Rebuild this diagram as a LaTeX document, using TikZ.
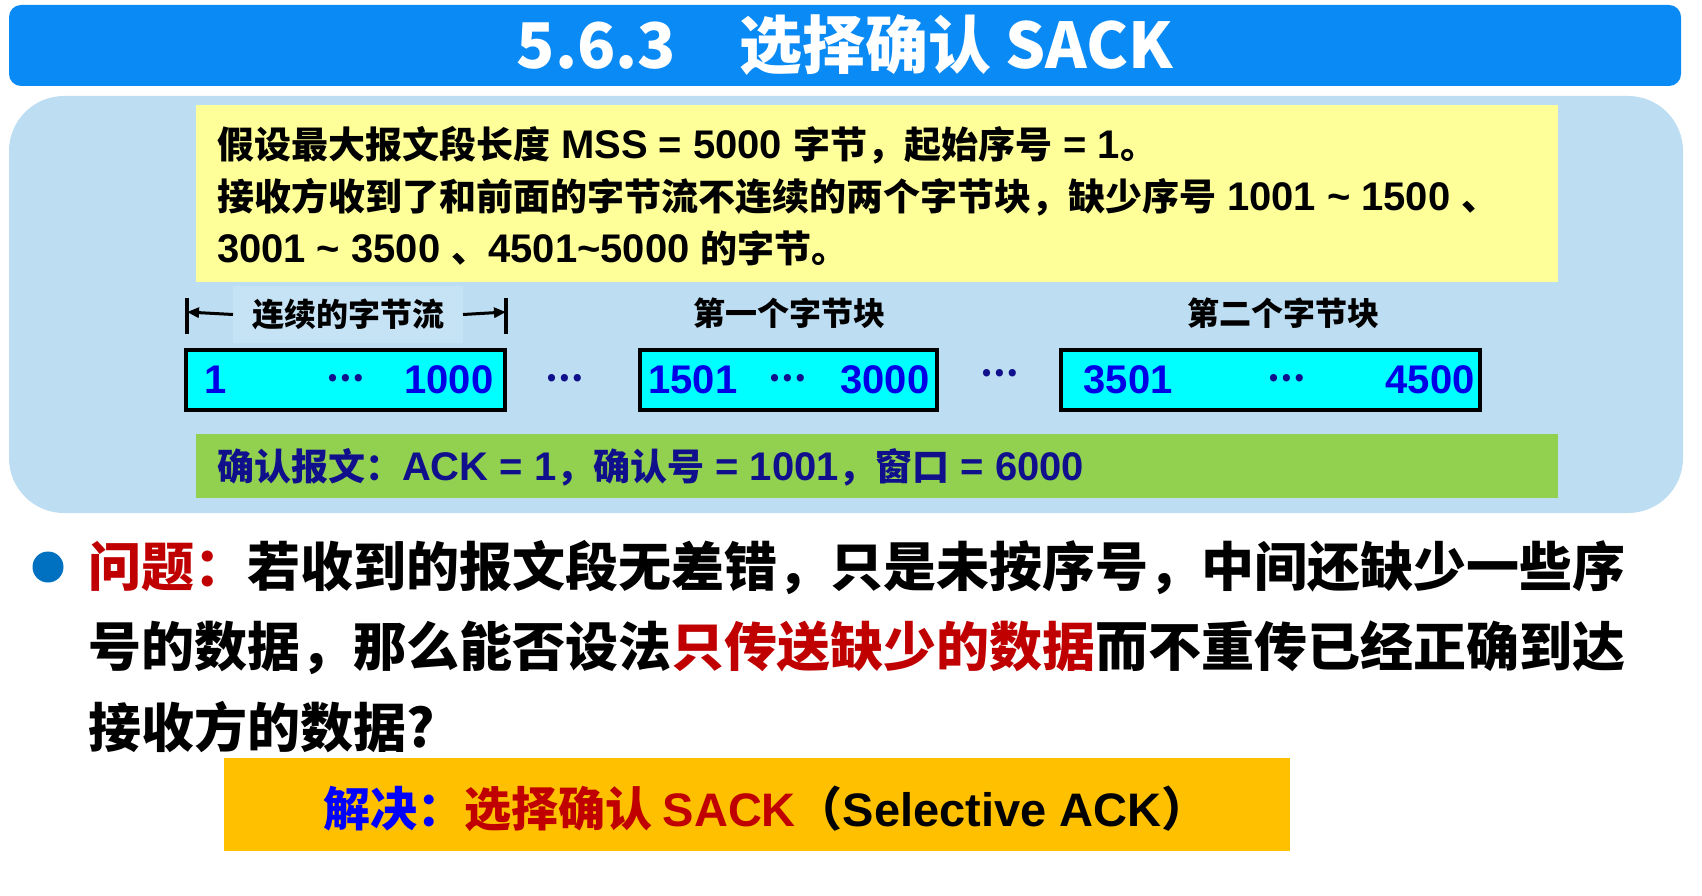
\documentclass[tikz,border=0pt]{standalone}
\usepackage{fontspec}
\setmainfont{Noto Sans CJK SC}
\newfontfamily\latinfont{Liberation Sans}[Scale=1.08]
\newfontfamily\latinplain{Liberation Sans}
\newcommand{\ls}[1]{{\latinfont #1}}
\newcommand{\lp}[1]{{\latinplain #1}}
\usetikzlibrary{arrows.meta}
\definecolor{barblue}{HTML}{0A8AF5}
\definecolor{panelblue}{HTML}{BDDDF2}
\definecolor{lablue}{HTML}{C6E3F6}
\definecolor{noteyellow}{HTML}{FFFF99}
\definecolor{ackgreen}{HTML}{92D050}
\definecolor{segcyan}{HTML}{00FFFF}
\definecolor{numblue}{HTML}{0000E6}
\definecolor{navy}{HTML}{10108C}
\definecolor{darkred}{HTML}{C00000}
\definecolor{bulletblue}{HTML}{0070C0}
\definecolor{ansorange}{HTML}{FFC000}
\begin{document}
\begin{tikzpicture}[x=1pt,y=-1pt,
  plain/.style={inner sep=0pt, outer sep=0pt},
  txt/.style={plain, anchor=west},
  seg/.style={plain, draw=black, line width=4pt, fill=segcyan, minimum height=60pt},
  num/.style={plain, text=numblue, font=\latinfont\bfseries\fontsize{37}{44}\selectfont},
  dots/.style={plain, text=navy, font=\bfseries\fontsize{34}{40}\selectfont},
  blocklbl/.style={plain, font=\bfseries\fontsize{32}{36}\selectfont},
  note/.style={txt, font=\bfseries\fontsize{37}{42}\selectfont},
  question/.style={txt, font=\bfseries\fontsize{53}{60}\selectfont},
  tick/.style={line width=3.5pt},
  span/.style={line width=3pt, -{Triangle[length=12pt,width=10pt]}}]
\useasboundingbox (0,0) rectangle (1702,896);
\fill[white] (0,0) rectangle (1702,896);

% title bar
\node[plain, fill=barblue, rounded corners=12pt, minimum width=1672pt, minimum height=81pt] (bar) at (845,45.5) {};
\node[plain, text=white, font=\bfseries\fontsize{63}{70}\selectfont] (title) at (bar.center) {5.6.3\quad 选择确认 SACK};

% scenario panel
\node[plain, fill=panelblue, rounded corners=55pt, minimum width=1674pt, minimum height=417pt] (panel) at (846,304.5) {};

% assumptions
\node[plain, fill=noteyellow, minimum width=1362pt, minimum height=177pt] (assume) at (877,193.5) {};
\node[note] (l1) at (217,145) {假设最大报文段长度\ls{ MSS = 5000 }字节，起始序号\ls{ = 1}。};
\node[note] (l2) at (217,197) {接收方收到了和前面的字节流不连续的两个字节块，缺少序号\ls{ 1001 \textasciitilde{} 1500 }、};
\node[note] (l3) at (217,248) {\ls{3001 \textasciitilde{} 3500 }、\ls{4501\textasciitilde{}5000 }的字节。};

% byte-stream labels
\node[blocklbl, fill=lablue, minimum width=230pt, minimum height=57pt] (streamlbl) at (348,314.5) {连续的字节流};
\coordinate (ltick) at (187,312);
\coordinate (rtick) at (506,312);
\draw[tick] (187,298) -- (187,334);
\draw[tick] (506,298) -- (506,334);
\draw[span] (streamlbl.west) -- (ltick);
\draw[span] (streamlbl.east) -- (rtick);
\node[blocklbl] (blk1lbl) at (789,313) {第一个字节块};
\node[blocklbl] (blk2lbl) at (1283,313) {第二个字节块};

% received segments
\node[seg, minimum width=319pt] (s1) at (345.5,380) {};
\node[num] (s1a) at (216,380) {1};
\node[dots] (s1d) at (346,378) {…};
\node[num] (s1b) at (449,380) {1000};
\node[dots] (gap1) at (565,378) {…};

\node[seg, minimum width=297pt] (s2) at (788.5,380) {};
\node[num] (s2a) at (693,380) {1501};
\node[dots] (s2d) at (788,378) {…};
\node[num] (s2b) at (885,380) {3000};
\node[dots] (gap2) at (1000,373) {…};

\node[seg, minimum width=419pt] (s3) at (1270.5,380) {};
\node[num] (s3a) at (1128,380) {3501};
\node[dots] (s3d) at (1287,378) {…};
\node[num] (s3b) at (1430,380) {4500};

% acknowledgement
\node[plain, fill=ackgreen, minimum width=1362pt, minimum height=64pt] (ack) at (877,466) {};
\node[note, text=navy] (acktxt) at (217,467) {确认报文：\ls{ACK = 1}，确认号\ls{ = 1001}，窗口\ls{ = 6000}};

% question
\fill[bulletblue] (48,567) circle (15.5);
\node[question] (q1) at (88,568) {\textcolor{darkred}{问题：}若收到的报文段无差错，只是未按序号，中间还缺少一些序};
\node[question] (q2) at (88,648) {号的数据，那么能否设法\textcolor{darkred}{只传送缺少的数据}而不重传已经正确到达};
\node[question] (q3) at (88,727) {接收方的数据?};

% answer
\node[plain, fill=ansorange, minimum width=1066pt, minimum height=93pt] (answer) at (757,804.5) {};
\node[txt, font=\bfseries\fontsize{47}{52}\selectfont] (anstxt) at (323,809)
  {\textcolor{blue}{解决：}\textcolor{darkred}{选择确认 \lp{SACK}}（\lp{Selective ACK}）};
\end{tikzpicture}
\end{document}
